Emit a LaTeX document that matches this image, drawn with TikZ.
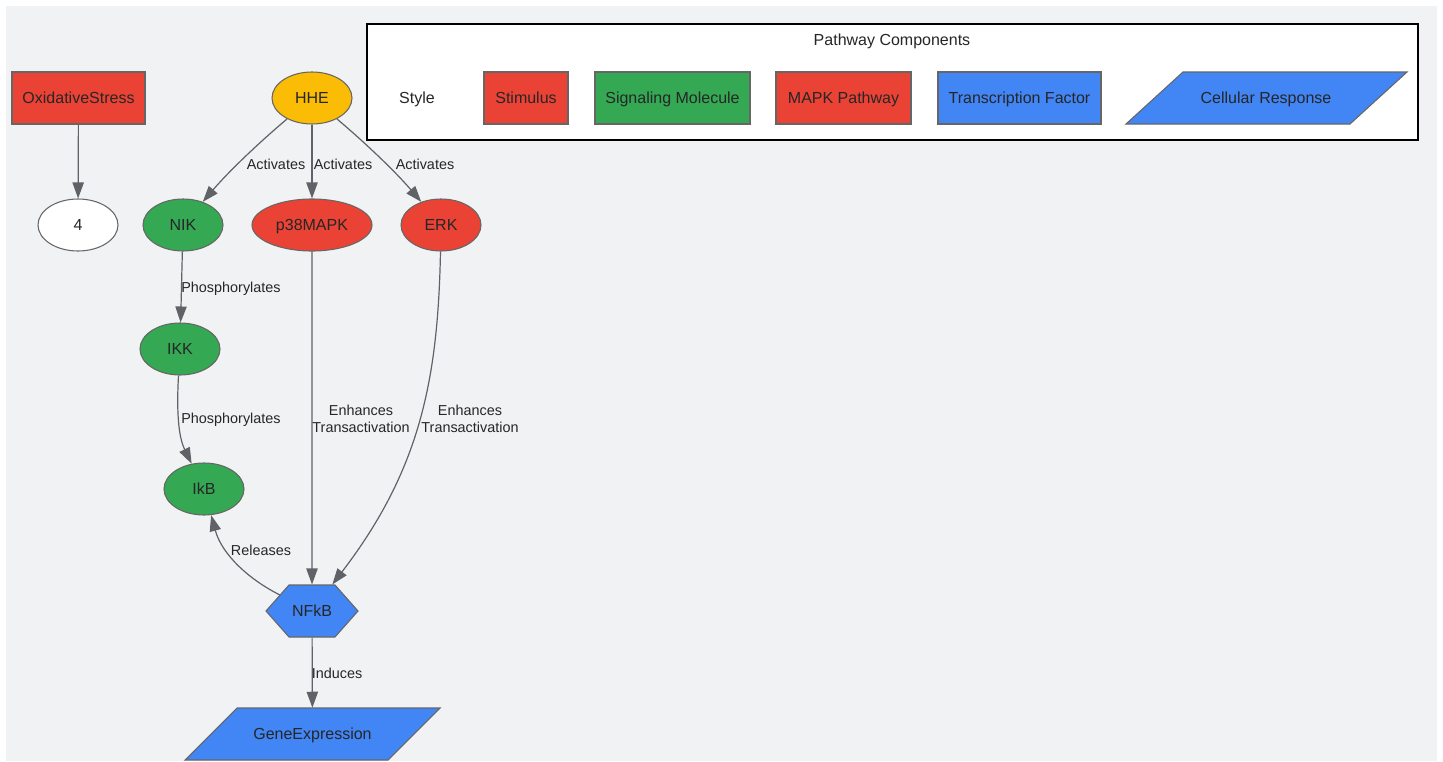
\documentclass[tikz,border=0pt]{standalone}
\usepackage{fontspec}
\setmainfont{Liberation Sans}
\usetikzlibrary{arrows.meta,shapes.geometric,shapes.symbols}
\definecolor{bgc}{HTML}{F1F2F4}
\definecolor{redc}{HTML}{EA4335}
\definecolor{greenc}{HTML}{34A853}
\definecolor{yellowc}{HTML}{FBBC05}
\definecolor{bluec}{HTML}{4285F4}
\definecolor{txtc}{HTML}{262626}
\definecolor{edgec}{HTML}{5F6368}
\definecolor{borderc}{HTML}{666666}
\begin{document}
\begin{tikzpicture}[x=0.75pt,y=-0.75pt,
  font=\fontsize{12}{14}\selectfont,
  base/.style={draw=borderc, line width=0.8pt, text=txtc, inner sep=0pt, text height=9.6pt, text depth=1pt},
  rbox/.style={base, rectangle, minimum height=39pt},
  ell/.style={base, ellipse, minimum width=60pt, minimum height=39pt},
  hexa/.style={base, signal, signal to=east and west, signal pointer angle=97, minimum width=69pt, minimum height=39pt},
  para/.style={draw=borderc, line width=0.8pt, fill=bluec},
  edge/.style={draw=edgec, line width=0.9pt, -{Triangle[length=12pt,width=8.5pt]}},
  lbl/.style={text=txtc, inner sep=0pt, align=center, text height=9.6pt, text depth=1pt},
  elbl/.style={text=txtc, inner sep=0pt, align=center, font=\fontsize{10.8}{12.8}\selectfont},
  selbl/.style={elbl, text height=8.6pt, text depth=0.9pt}]
\useasboundingbox (0,0) rectangle (1443,761);
\fill[bgc] (6,6) rectangle (1437,761);

% legend
\draw[fill=white, line width=1pt] (367,24) rectangle (1418,140);
\node[lbl] (ltitle) at (892,40) {Pathway Components};
\node[lbl] (lstyle) at (417,98) {Style};
\node[rbox, fill=redc, minimum width=63pt] (l1) at (526,98) {Stimulus};
\node[rbox, fill=greenc, minimum width=116.25pt] (l2) at (672.5,98) {Signaling Molecule};
\node[rbox, fill=redc, minimum width=101.25pt] (l3) at (843.5,98) {MAPK Pathway};
\node[rbox, fill=bluec, minimum width=122.25pt] (l4) at (1019.5,98) {Transcription Factor};
\draw[para] (1126,124) -- (1183,72) -- (1407,72) -- (1350,124) -- cycle;
\node[lbl] (l5) at (1266,98) {Cellular Response};

% main nodes
\node[rbox, fill=redc, minimum width=99.75pt] (os) at (78.5,98) {OxidativeStress};
\node[ell, fill=white] (n4) at (78,225) {4};
\node[ell, fill=yellowc] (hhe) at (312,98) {HHE};
\node[ell, fill=greenc] (nik) at (183,225) {NIK};
\node[ell, fill=redc, minimum width=90pt] (p38) at (312,225) {p38MAPK};
\node[ell, fill=redc] (erk) at (441,225) {ERK};
\node[ell, fill=greenc] (ikk) at (180,349) {IKK};
\node[ell, fill=greenc] (ikb) at (204,489) {IkB};
\node[hexa, fill=bluec] (nfkb) at (312,611) {NFkB};
\draw[para] (185,760) -- (237,708) -- (440,708) -- (388,760) -- cycle;
\node[lbl, minimum width=152pt, minimum height=39pt] (ge) at (312.5,734) {GeneExpression};

% edges
\draw[edge] (os) -- (n4);
\draw[edge] (hhe) .. controls (262,140) and (230,170) .. (nik);
\draw[edge] (hhe) -- (p38);
\draw[edge] (hhe) .. controls (362,140) and (394,170) .. (erk);
\draw[edge] (nik) -- (ikk);
\draw[edge] (ikk) .. controls (176,420) and (180,440) .. (ikb);
\draw[edge] (p38) -- (nfkb);
\draw[edge] (erk) .. controls (438,380) and (420,470) .. (nfkb);
\draw[edge] (nfkb) .. controls (250,580) and (222,555) .. (ikb);
\draw[edge] (nfkb) -- (ge);

% edge labels
\node[selbl] (a1) at (276,164) {Activates};
\node[selbl] (a2) at (343,164) {Activates};
\node[selbl] (a3) at (425,164) {Activates};
\node[selbl] (p1) at (231,287) {Phosphorylates};
\node[selbl] (p2) at (231,418) {Phosphorylates};
\node[elbl] (e1) at (361,419) {Enhances\\Transactivation};
\node[elbl] (e2) at (470,419) {Enhances\\Transactivation};
\node[selbl] (r1) at (261,550) {Releases};
\node[selbl] (i1) at (337,673) {Induces};
\end{tikzpicture}
\end{document}
